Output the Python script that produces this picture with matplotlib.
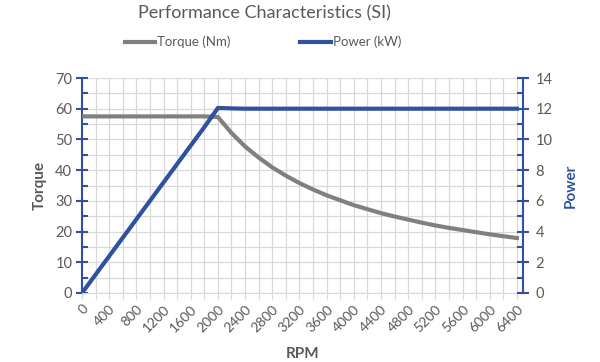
import matplotlib
matplotlib.use("Agg")
import matplotlib.pyplot as plt
from matplotlib.lines import Line2D
from matplotlib.ticker import MultipleLocator

plt.rcParams['font.family'] = ['Lato', 'DejaVu Sans']

rpm = [0, 200, 400, 600, 800, 1000, 1200, 1400, 1600, 1800, 2000,
       2200, 2400, 2600, 2800, 3000, 3200, 3400, 3600, 3800, 4000,
       4200, 4400, 4600, 4800, 5000, 5200, 5400, 5600, 5800, 6000,
       6200, 6400]
torque_nm = [57.5, 57.5, 57.5, 57.5, 57.5, 57.5, 57.5, 57.5, 57.5, 57.5, 57.3,
             52.1, 47.7, 44.1, 40.9, 38.2, 35.8, 33.7, 31.8, 30.2, 28.6,
             27.3, 26.0, 24.9, 23.9, 22.9, 22.0, 21.2, 20.5, 19.8, 19.1,
             18.5, 17.9]
power_kw = [0.0, 1.2, 2.4, 3.6, 4.8, 6.0, 7.2, 8.4, 9.6, 10.8, 12.05,
            12.02, 12.0, 12.0, 12.0, 12.0, 12.0, 12.0, 12.0, 12.0, 12.0,
            12.0, 12.0, 12.0, 12.0, 12.0, 12.0, 12.0, 12.0, 12.0, 12.0,
            12.0, 12.0]
xtick_labels = [str(v) for v in range(0, 6401, 400)]

GRAY = '#808080'
BLUE = '#2F52A0'
TXT = '#595959'
GRID = '#D9D9D9'

fig = plt.figure(figsize=(6.0, 3.62), dpi=100)
ax = fig.add_axes([82/600, 1-293/362, (523-82)/600, (293-78)/362])
ax2 = ax.twinx()

ax.plot(rpm, torque_nm, color=GRAY, lw=3.0, solid_joinstyle='round', zorder=3)
ax2.plot(rpm, power_kw, color=BLUE, lw=3.0, solid_joinstyle='round', zorder=3)

ax.set_xlim(0, 6490)
ax.set_ylim(0, 70)
ax2.set_ylim(0, 14)

ax.xaxis.set_minor_locator(MultipleLocator(200))
ax.set_xticks(list(range(0, 6401, 400)))
ax.set_xticklabels(xtick_labels, rotation=45, ha='right', va='top',
                   rotation_mode='anchor', color=TXT, fontsize=10)
ax.yaxis.set_major_locator(MultipleLocator(10))
ax.yaxis.set_minor_locator(MultipleLocator(5))
ax2.yaxis.set_major_locator(MultipleLocator(2))
ax2.yaxis.set_minor_locator(MultipleLocator(1))

ax.grid(True, which='both', color=GRID, lw=0.9)
ax.set_axisbelow(True)

for a in (ax, ax2):
    a.spines['top'].set_visible(False)
    a.spines['left'].set_color(BLUE)
    a.spines['right'].set_color(BLUE)
    a.spines['left'].set_linewidth(1.5)
    a.spines['right'].set_linewidth(1.5)
    a.spines['bottom'].set_color(GRID)
ax.spines['right'].set_visible(False)
ax2.spines['left'].set_visible(False)
ax2.spines['bottom'].set_visible(False)

ax.tick_params(axis='y', which='major', direction='inout', length=8, width=1.5,
               color=BLUE, labelcolor=TXT, labelsize=10.5, pad=3)
ax.tick_params(axis='y', which='minor', direction='in', length=4, width=1.5, color=BLUE)
ax2.tick_params(axis='y', which='major', direction='inout', length=8, width=1.5,
                color=BLUE, labelcolor=TXT, labelsize=10.5, pad=5)
ax2.tick_params(axis='y', which='minor', direction='in', length=4, width=1.5, color=BLUE)
ax.tick_params(axis='x', which='both', direction='out', length=4, width=0.9,
               color=GRID, pad=3)

ax.set_ylabel('Torque', color=TXT, fontsize=11, fontweight='bold', labelpad=6)
ax2.set_ylabel('Power', color=BLUE, fontsize=11, fontweight='bold', labelpad=8)
ax.set_xlabel('RPM', color=TXT, fontsize=11, fontweight='bold', labelpad=9)

fig.text(264/600, 1-13/362, 'Performance Characteristics (SI)', ha='center', va='center',
         color=TXT, fontsize=13)

handles = [Line2D([], [], color=GRAY, lw=3.0), Line2D([], [], color=BLUE, lw=3.0)]
fig.legend(handles, ['Torque (Nm)', 'Power (kW)'], loc='center',
           bbox_to_anchor=(263/600, 1-42/362), ncol=2, frameon=False,
           fontsize=9.5, labelcolor=TXT, handlelength=2.3, handletextpad=0.15,
           columnspacing=5.3)

fig.savefig('out.png', dpi=100)
